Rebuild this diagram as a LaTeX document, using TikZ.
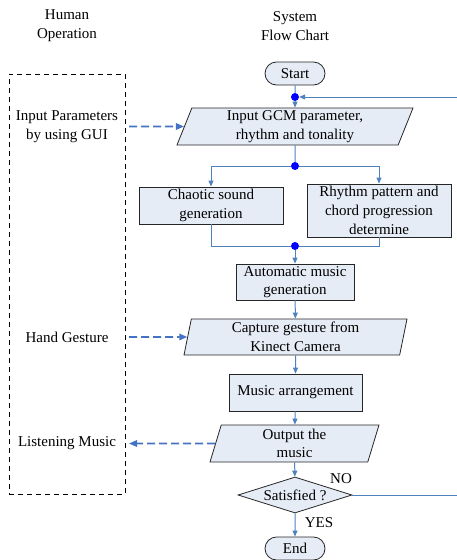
\documentclass[tikz,border=0pt]{standalone}
\usepackage{fontspec}
\setmainfont{Liberation Serif}
\usetikzlibrary{shapes.geometric,shapes.misc,arrows.meta}
\definecolor{boxfill}{RGB}{230,236,246}
\definecolor{flow}{RGB}{79,129,189}
\definecolor{dashc}{RGB}{68,114,196}
\definecolor{dotc}{RGB}{0,0,255}
\begin{document}
\begin{tikzpicture}[x=1pt,y=-1pt, font=\fontsize{15}{18.7}\selectfont,
  shapeline/.style={draw=black!85, line width=0.8pt, fill=boxfill},
  box/.style={shapeline, rectangle, inner sep=0pt, align=center},
  term/.style={shapeline, rounded rectangle, minimum width=60, minimum height=23, inner sep=0pt},
  para/.style={shapeline, trapezium, trapezium stretches body, inner sep=0pt, align=center},
  decision/.style={shapeline, diamond, inner sep=0pt, aspect=3.2},
  flowline/.style={draw=flow, line width=1pt},
  arr/.style={flowline, -{Triangle[length=6pt,width=5pt]}},
  dasharr/.style={draw=dashc, line width=1.7pt, dash pattern=on 8pt off 4pt, -{Triangle[length=8pt,width=6.5pt]}},
  jdot/.style={circle, fill=dotc, inner sep=0pt, minimum size=8pt},
  lbl/.style={align=center, inner sep=0pt}]
\useasboundingbox (0,0) rectangle (457,560);

% left column
\node[lbl] (hh) at (67,26) {Human\\Operation};
\node[lbl] (sh) at (295,26) {System\\Flow Chart};
\node[draw=black, line width=0.9pt, dash pattern=on 5pt off 4pt, minimum width=116, minimum height=420, inner sep=0pt] (hbox) at (67,284) {};
\node[lbl] (lgui) at (67,127) {Input Parameters\\by using GUI};
\node[lbl] (lhand) at (67,337) {Hand Gesture};
\node[lbl] (llisten) at (67,443) {Listening Music};
\coordinate (g1) at (129,126.5);
\coordinate (g2) at (129,337);
\coordinate (g3) at (129,443.5);

% flow chart
\node[term] (start) at (295,73.5) {Start};
\node[jdot] (d1) at (295,97) {};
\node[para, trapezium left angle=65, trapezium right angle=115, minimum width=236, minimum height=37] (p1) at (295,126.5) {Input GCM parameter,\\rhythm and tonality};
\node[jdot] (d2) at (295,166) {};
\node[box, minimum width=144, minimum height=37] (chaos) at (211,205.5) {Chaotic sound\\generation};
\node[box, minimum width=144, minimum height=53] (rhy) at (379,210.5) {Rhythm pattern and\\chord progression\\determine};
\node[jdot] (d3) at (295,246) {};
\node[box, minimum width=118, minimum height=36] (auto) at (295,282) {Automatic music\\generation};
\node[para, trapezium left angle=76, trapezium right angle=104, minimum width=223, minimum height=36] (p2) at (295.5,337) {Capture gesture from\\Kinect Camera};
\node[box, minimum width=133, minimum height=37] (marr) at (295.5,392.5) {Music arrangement};
\node[para, trapezium left angle=69, trapezium right angle=111, minimum width=169, minimum height=37] (p3) at (294.5,443.5) {Output the\\music};
\node[decision, minimum width=114, minimum height=36] (sat) at (295,495) {Satisfied ?};
\node[term] (end) at (295,548.5) {End};
\node[lbl] (no) at (341,479) {NO};
\node[lbl] (yes) at (319,523) {YES};

% connectors
\draw[flowline] (start) -- (d1);
\draw[arr] (d1) -- (p1);
\draw[flowline] (p1) -- (d2);
\draw[arr] (d2) -| (chaos);
\draw[arr] (d2) -| (rhy);
\draw[flowline] (chaos) |- (d3);
\draw[flowline] (rhy) |- (d3);
\draw[arr] (d3) -- (auto);
\draw[arr] (auto) -- (p2);
\draw[arr] (p2) -- (marr);
\draw[arr] (marr) -- (p3);
\draw[arr] (p3) -- (sat);
\draw[arr] (sat) -- (end);
\draw[arr] (sat.east) -- ++(170,0) |- (d1);

\draw[dasharr] (g1) -- (p1.west);
\draw[dasharr] (g2) -- (p2.west);
\draw[dasharr] (p3.west) -- (g3);
\end{tikzpicture}
\end{document}
